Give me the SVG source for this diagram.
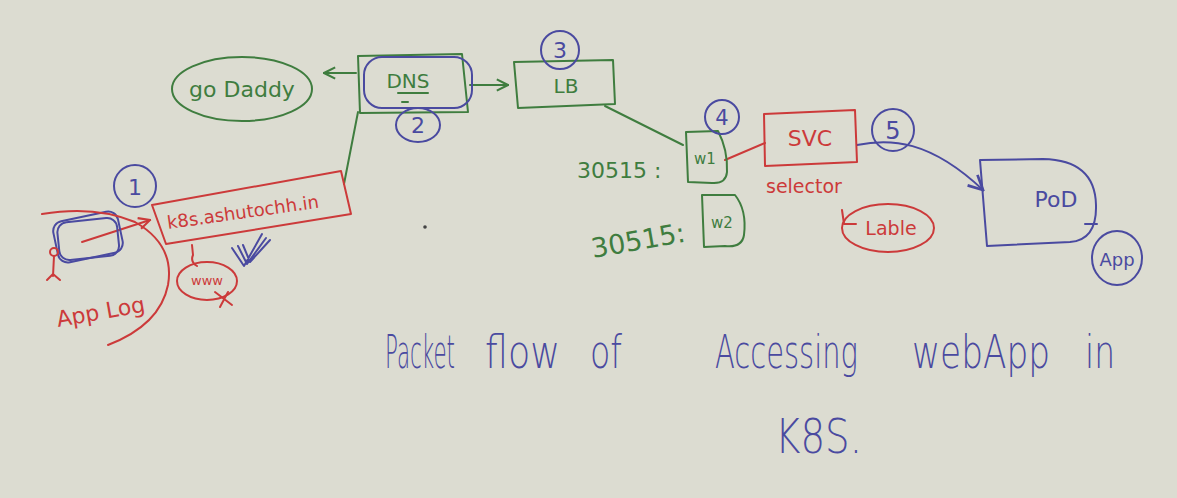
<svg xmlns="http://www.w3.org/2000/svg" width="1177" height="498" viewBox="0 0 1177 498">
<style>
.g{fill:none;stroke:#3f7d3f;stroke-width:2;stroke-linecap:round;stroke-linejoin:round}
.b{fill:none;stroke:#4a4aa0;stroke-width:2;stroke-linecap:round;stroke-linejoin:round}
.r{fill:none;stroke:#cc3a3a;stroke-width:2;stroke-linecap:round;stroke-linejoin:round}
.tg{fill:#3f7d3f;font-family:"DejaVu Sans",sans-serif}
.tb{fill:#4a4aa0;font-family:"DejaVu Sans",sans-serif}
.tr{fill:#cc3a3a;font-family:"DejaVu Sans",sans-serif}
.th{fill:#4a4aa0;font-family:"DejaVu Sans",sans-serif;font-weight:300}
</style>
<defs>
<marker id="ag" viewBox="0 0 10 10" refX="9" refY="5" markerWidth="7" markerHeight="7" orient="auto-start-reverse"><path d="M1,1 L9,5 L1,9" fill="none" stroke="#3f7d3f" stroke-width="1.5"/></marker>
<marker id="ab" viewBox="0 0 10 10" refX="9" refY="5" markerWidth="9" markerHeight="9" orient="auto"><path d="M1,1 L9,5 L1,9" fill="none" stroke="#4a4aa0" stroke-width="1.5"/></marker>
<marker id="ar" viewBox="0 0 10 10" refX="9" refY="5" markerWidth="7" markerHeight="7" orient="auto"><path d="M1,1 L9,5 L1,9" fill="none" stroke="#cc3a3a" stroke-width="1.5"/></marker>
</defs>
<rect width="1177" height="498" fill="#dcdcd1"/>

<g id="connectors">
<path class="g" d="M356,73 L324,73" marker-end="url(#ag)"/>
<path class="g" d="M358,112 L344,184"/>
<path class="g" d="M470,85 L508,85" marker-end="url(#ag)"/>
<path class="g" d="M605,106 L683,145"/>
<path class="r" d="M725,160 L765,143"/>
<path class="b" d="M857,145 C890,138 930,140 983,190" marker-end="url(#ab)"/>
<path class="r" d="M82,242 L150,220" marker-end="url(#ar)"/>
<path class="r" d="M192,245 L193,255 Q190,262 197,266"/>
</g>

<g id="godaddy">
<ellipse class="g" cx="242" cy="89" rx="70" ry="32"/>
<text class="tg" x="242" y="97" font-size="22" text-anchor="middle">go Daddy</text>
</g>

<g id="dns">
<path class="g" d="M358,56 L462,54 L468,112 L360,113 Z"/>
<rect class="b" x="364" y="57" width="108" height="51" rx="18"/>
<text class="tg" x="408" y="88" font-size="20" text-anchor="middle">DNS</text>
<path class="g" d="M398,93 L428,93 M402,102 L408,102"/>
</g>
<g id="badge2">
<ellipse class="b" cx="418" cy="125" rx="22" ry="17"/>
<text class="tb" x="418" y="133" font-size="22" text-anchor="middle">2</text>
</g>

<g id="lb">
<path class="g" d="M514,62 L613,60 L615,104 L518,108 Z"/>
<text class="tg" x="566" y="93" font-size="20" text-anchor="middle">LB</text>
</g>
<g id="badge3">
<circle class="b" cx="560" cy="50" r="19"/>
<text class="tb" x="560" y="58" font-size="22" text-anchor="middle">3</text>
</g>

<g id="w1">
<path class="g" d="M686,132 L718,131 Q728,150 727,172 Q726,184 712,183 L688,182 Z"/>
<text class="tg" x="705" y="164" font-size="15" text-anchor="middle">w1</text>
</g>
<g id="badge4">
<circle class="b" cx="722" cy="117" r="17"/>
<text class="tb" x="722" y="125" font-size="21" text-anchor="middle">4</text>
</g>
<g id="port1">
<text class="tg" x="577" y="178" font-size="22">30515 :</text>
</g>
<g id="w2">
<path class="g" d="M702,195 L735,195 Q747,210 744,235 Q742,248 725,246 L704,247 Z"/>
<text class="tg" x="722" y="228" font-size="15" text-anchor="middle">w2</text>
</g>
<g id="port2">
<text class="tg" x="593" y="258" font-size="27" transform="rotate(-10 593 258)">30515:</text>
</g>

<g id="svc">
<path class="r" d="M764,114 L855,110 L857,162 L765,166 Z"/>
<text class="tr" x="810" y="146" font-size="22" text-anchor="middle">SVC</text>
</g>
<g id="selector">
<text class="tr" x="766" y="193" font-size="19">selector</text>
</g>
<g id="lable">
<ellipse class="r" cx="888" cy="228" rx="46" ry="24"/>
<path class="r" d="M842,210 L844,224 L856,224"/>
<text class="tr" x="891" y="235" font-size="19" text-anchor="middle">Lable</text>
</g>
<g id="badge5">
<circle class="b" cx="893" cy="130" r="21"/>
<text class="tb" x="893" y="139" font-size="24" text-anchor="middle">5</text>
</g>

<g id="pod">
<path class="b" d="M980,160 L1043,159 Q1095,160 1096,205 Q1097,240 1070,242 L987,246 Z"/>
<path class="b" d="M1085,224 L1097,224"/>
<text class="tb" x="1056" y="207" font-size="22" text-anchor="middle">PoD</text>
</g>
<g id="app">
<ellipse class="b" cx="1117" cy="258" rx="25" ry="27"/>
<text class="tb" x="1117" y="266" font-size="18" text-anchor="middle">App</text>
</g>

<g id="domain">
<path class="r" d="M152,205 L341,171 L351,214 L166,244 Z"/>
<text class="tr" x="168" y="229" font-size="18" transform="rotate(-8 168 229)">k8s.ashutochh.in</text>
</g>
<g id="badge1">
<circle class="b" cx="135" cy="186" r="21"/>
<text class="tb" x="135" y="195" font-size="22" text-anchor="middle">1</text>
</g>

<g id="laptop">
<rect class="b" x="55" y="216" width="66" height="42" rx="10" transform="rotate(-12 88 237)"/>
<rect class="b" x="58" y="220" width="60" height="38" rx="10" transform="rotate(-6 88 237)"/>
</g>
<g id="user">
<circle class="r" cx="54" cy="252" r="4"/>
<path class="r" d="M54,256 L53,276 M47,280 L53,274 L60,280"/>
</g>
<g id="applog">
<path class="r" d="M42,214 Q95,205 135,222 Q175,245 168,285 Q160,325 108,345"/>
<text class="tr" x="58" y="327" font-size="22" transform="rotate(-10 58 327)">App Log</text>
</g>
<g id="www">
<ellipse class="r" cx="207" cy="281" rx="30" ry="19"/>
<text class="tr" x="207" y="285" font-size="13" text-anchor="middle">www</text>
<path class="r" d="M215,292 L232,305 M228,292 L220,307"/>
</g>
<g id="checks">
<path class="b" d="M232,248 L244,266 L262,234 M238,246 L247,264 L266,238 M243,245 L250,262 L270,240"/>
</g>
<g id="dot">
<circle cx="425" cy="227" r="1.8" fill="#444"/>
</g>

<g id="title" transform="scale(0.5 1)">
<text class="th" y="368" font-size="46"><tspan x="770" textLength="140" lengthAdjust="spacingAndGlyphs">Packet</tspan> <tspan x="970" textLength="150" lengthAdjust="spacingAndGlyphs">flow</tspan> <tspan x="1180" textLength="64" lengthAdjust="spacingAndGlyphs">of</tspan> <tspan x="1430" textLength="286" lengthAdjust="spacingAndGlyphs">Accessing</tspan> <tspan x="1824" textLength="276" lengthAdjust="spacingAndGlyphs">webApp</tspan> <tspan x="2170" textLength="60" lengthAdjust="spacingAndGlyphs">in</tspan></text>
<text class="th" x="1550" y="453" font-size="48" textLength="174" lengthAdjust="spacingAndGlyphs">K8S.</text>
</g>
</svg>
